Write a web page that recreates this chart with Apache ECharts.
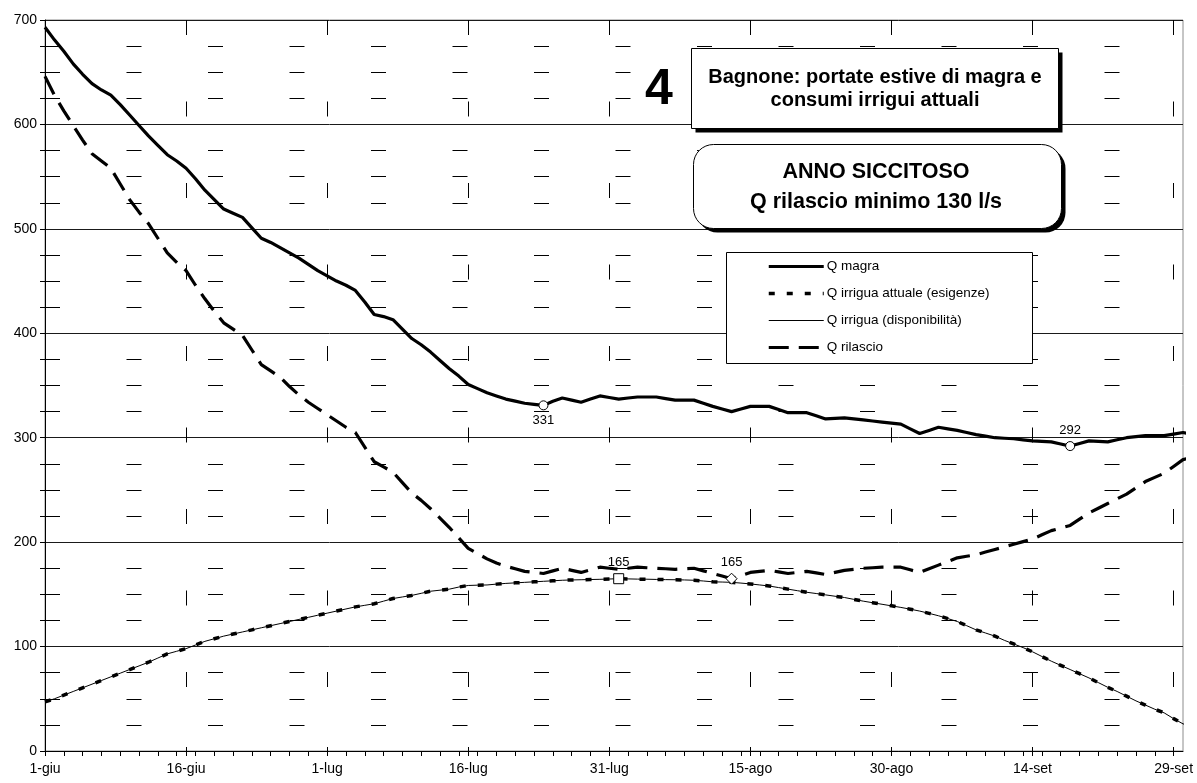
<!DOCTYPE html>
<html><head><meta charset="utf-8">
<script src="https://cdn.jsdelivr.net/npm/echarts@6/dist/echarts.min.js"></script>
<style>html,body{margin:0;padding:0;background:#fff}#c{width:1197px;height:783px}</style>
</head><body><div id="c"></div>
<script>
// ---- data ----
const months = [['giu', 30], ['lug', 31], ['ago', 31], ['set', 30], ['ott', 1]];
const categories = [];
months.forEach(function (m) { for (let d = 1; d <= m[1]; d++) categories.push(d + '-' + m[0]); });

const yMin = 0, yMax = 700, yInterval = 100;

const qMagra = [
  693, 681, 670, 658, 648, 639, 633, 628, 619, 609,
  599, 589, 580, 571, 565, 558, 548, 537, 528, 519,
  515, 511, 501, 491, 487, 482, 477, 472, 466, 460,
  455, 450, 446, 441, 430, 418, 416, 413, 404, 395,
  389, 382, 374, 366, 359, 351, 347, 343, 340, 337,
  335, 333, 332, 331, 335, 338, 336, 334, 337, 340,
  338.5, 337, 338, 339, 339, 339, 337.5, 336, 336, 336,
  333, 330, 327.5, 325, 327.5, 330, 330, 330, 327, 324,
  324, 324, 321, 318, 318.5, 319, 318, 317, 316, 315,
  314, 313, 308.5, 304, 307, 310, 308.5, 307, 305, 303,
  301.5, 300, 299.5, 299, 298, 297, 296.5, 296, 294, 292,
  294.5, 297, 296.5, 296, 298, 300, 301, 302, 302, 302,
  303.5, 305, 303
];

const qIrriguaEsigenze = [
  47, 50, 53.5, 57, 60.5, 64, 67.5, 71, 74.5, 78,
  81.5, 85, 89, 93, 95.5, 98, 101.5, 105, 107.5, 110,
  112, 114, 116, 118, 120, 122, 124, 126, 128, 130,
  132, 134, 136, 138, 139.5, 141, 143.5, 146, 147.5, 149,
  151, 153, 154, 155, 157, 158.5, 158.8, 159, 159.8, 160.5,
  161, 161.5, 162, 162.5, 163, 163.5, 163.8, 164, 164.2, 164.4,
  164.7, 165, 164.8, 164.6, 164.5, 164.3, 164.1, 164, 163.8, 163.5,
  162.8, 162, 161.8, 161.5, 160.8, 160, 159, 158, 156.5, 155,
  153.5, 152, 150.8, 149.5, 148.2, 147, 145.2, 143.5, 142, 140.5,
  139, 137.5, 135.8, 134, 131.8, 129.5, 126.8, 124, 120, 116,
  113, 110, 106, 102.5, 99, 95, 90.5, 86, 82, 78,
  74, 70, 65.5, 61, 57, 52.5, 48, 44, 40, 36.5,
  31, 26, 23
];

const qIrriguaDisponibilita = [
  47, 50, 53.5, 57, 60.5, 64, 67.5, 71, 74.5, 78,
  81.5, 85, 89, 93, 95.5, 98, 101.5, 105, 107.5, 110,
  112, 114, 116, 118, 120, 122, 124, 126, 128, 130,
  132, 134, 136, 138, 139.5, 141, 143.5, 146, 147.5, 149,
  151, 153, 154, 155, 157, 158.5, 158.8, 159, 159.8, 160.5,
  161, 161.5, 162, 162.5, 163, 163.5, 163.8, 164, 164.2, 164.4,
  164.7, 165, 164.8, 164.6, 164.5, 164.3, 164.1, 164, 163.8, 163.5,
  162.8, 162, 161.8, 161.5, 160.8, 160, 159, 158, 156.5, 155,
  153.5, 152, 150.8, 149.5, 148.2, 147, 145.2, 143.5, 142, 140.5,
  139, 137.5, 135.8, 134, 131.8, 129.5, 126.8, 124, 120, 116,
  113, 110, 106, 102.5, 99, 95, 90.5, 86, 82, 78,
  74, 70, 65.5, 61, 57, 52.5, 48, 44, 40, 36.5,
  31, 26, 23
];

const qRilascio = [
  646, 628, 613, 599, 585, 572, 565, 558, 543, 528,
  516, 505, 491, 477, 468, 460, 446, 433, 421, 410,
  404, 398, 384, 370, 364, 358, 349, 341, 334, 328,
  322, 316, 310, 305, 291, 277, 272, 267, 257, 247,
  240, 232, 223, 214, 204, 194, 189, 184, 180, 177,
  174.5, 172, 171, 170, 172.5, 175, 173, 171, 173.5, 176,
  175, 174, 175, 176, 175.5, 175, 174.5, 174, 174.5, 175,
  172.5, 170, 167.5, 165, 168, 171, 172, 173, 171.5, 170,
  171, 172, 170.5, 169, 171, 173, 174, 175, 175.5, 176,
  176, 176, 173.5, 171, 174.5, 178, 181.5, 185, 186.5, 188,
  190.5, 193, 195.5, 198, 200.5, 203, 207, 211, 213.5, 216,
  222, 228, 232.5, 237, 241.5, 246, 252, 258, 262, 266,
  272.5, 279, 281
];

// indices of the annotated points
const magraMarkIdx = [53, 109];
const esigenzeMarkIdx = [61];
const rilascioMarkIdx = [73];

const seriesNames = ['Q magra', 'Q irrigua attuale (esigenze)', 'Q irrigua (disponibilità)', 'Q rilascio'];

// ---- chart ----
const FONT = 'Liberation Sans, Arial, sans-serif';

function buildData(values, idxs, symbol, size, positions) {
  return values.map(function (v, i) {
    const k = idxs.indexOf(i);
    if (k < 0) return v;
    return {
      value: v,
      symbol: symbol,
      symbolSize: size,
      itemStyle: { color: '#fff', borderColor: '#000', borderWidth: 1 },
      label: {
        show: true, position: positions[k], distance: 4,
        color: '#000', fontSize: 13, fontFamily: FONT,
        formatter: function (p) { return Math.round(p.value); }
      }
    };
  });
}

const chart = echarts.init(document.getElementById('c'), null, { renderer: 'canvas' });

const dashGrid = { color: '#000', width: 1, type: [15, 66.5], dashOffset: 0 };

const lineStyles = [
  { color: '#000', width: 3.2, type: 'solid' },
  { color: '#000', width: 3.5, type: [6, 12] },
  { color: '#000', width: 1, type: 'solid' },
  { color: '#000', width: 3.2, type: [20, 10] }
];

const commonSeries = {
  type: 'line', xAxisIndex: 0, yAxisIndex: 0,
  symbol: 'none', showSymbol: true, showAllSymbol: true,
  smooth: false, clip: false, animation: false,
  emphasis: { disabled: true }, color: '#000'
};

chart.setOption({
  animation: false,
  backgroundColor: '#fff',
  textStyle: { fontFamily: FONT },
  grid: { left: 45, right: 14, top: 20, bottom: 32, show: true, borderColor: '#8c8c8c', borderWidth: 1, containLabel: false },
  legend: {
    orient: 'vertical', left: 767, top: 259.5, padding: 0,
    itemWidth: 55, itemHeight: 14, itemGap: 13, z: 20,
    data: seriesNames.map(function (n, k) {
      return { name: n, lineStyle: { width: lineStyles[k].width, type: lineStyles[k].type, color: '#000' } };
    }),
    itemStyle: { opacity: 0, borderWidth: 0 },
    textStyle: { fontSize: 13.5, color: '#000', fontFamily: FONT, padding: [0, 0, 0, -2] },
    selectedMode: false
  },
  xAxis: [{
    type: 'category', data: categories, boundaryGap: false, max: 121, position: 'bottom',
    axisLine: { show: true, lineStyle: { color: '#000', width: 1 } },
    axisTick: { show: true, length: 5, lineStyle: { color: '#000' },
      interval: function (i) { return i % 2 === 0 || i % 15 === 0; } },
    axisLabel: { interval: 14, fontSize: 14, color: '#000', margin: 11, fontFamily: FONT },
    splitLine: { show: true, interval: 14, lineStyle: dashGrid }
  }, {
    type: 'category', data: categories, boundaryGap: false, max: 121, position: 'bottom',
    axisLine: { show: false },
    axisTick: { show: true, inside: true, length: 4, interval: 14, lineStyle: { color: '#000' } },
    axisLabel: { show: false },
    splitLine: { show: false }
  }],
  yAxis: {
    type: 'value', min: yMin, max: yMax, interval: yInterval,
    axisLine: { show: true, lineStyle: { color: '#000', width: 1 } },
    axisTick: { show: true, length: 5, lineStyle: { color: '#000' } },
    minorTick: { show: true, splitNumber: 4, length: 5, lineStyle: { color: '#000' } },
    axisLabel: { fontSize: 14, color: '#000', margin: 8, fontFamily: FONT },
    splitLine: { show: true, lineStyle: { color: '#1a1a1a', width: 1 } },
    minorSplitLine: { show: true, lineStyle: dashGrid }
  },
  series: [
    Object.assign({}, commonSeries, {
      name: seriesNames[0], z: 5,
      data: buildData(qMagra, magraMarkIdx, 'circle', 9, ['bottom', 'top']),
      lineStyle: lineStyles[0]
    }),
    Object.assign({}, commonSeries, {
      name: seriesNames[1], z: 4,
      data: buildData(qIrriguaEsigenze, esigenzeMarkIdx, 'rect', 10, ['top']),
      lineStyle: lineStyles[1]
    }),
    Object.assign({}, commonSeries, {
      name: seriesNames[2], z: 3,
      data: qIrriguaDisponibilita,
      lineStyle: lineStyles[2]
    }),
    Object.assign({}, commonSeries, {
      name: seriesNames[3], z: 4,
      data: buildData(qRilascio, rilascioMarkIdx, 'diamond', 11, ['top']),
      lineStyle: lineStyles[3]
    })
  ],
  graphic: [
    // legend frame
    { type: 'rect', z: 8, shape: { x: 726.5, y: 252.5, width: 306, height: 111 },
      style: { fill: '#fff', stroke: '#000', lineWidth: 1 } },
    // title box 1
    { type: 'rect', z: 8, shape: { x: 695.5, y: 52.5, width: 367, height: 80 }, style: { fill: '#000' } },
    { type: 'rect', z: 9, shape: { x: 691.5, y: 48.5, width: 367, height: 80 },
      style: { fill: '#fff', stroke: '#000', lineWidth: 1 } },
    { type: 'text', z: 10, style: { text: 'Bagnone: portate estive di magra e', x: 875, y: 77,
      font: 'bold 20px ' + FONT, fill: '#000', textAlign: 'center', textVerticalAlign: 'middle' } },
    { type: 'text', z: 10, style: { text: 'consumi irrigui attuali', x: 875, y: 100,
      font: 'bold 20px ' + FONT, fill: '#000', textAlign: 'center', textVerticalAlign: 'middle' } },
    // title box 2
    { type: 'rect', z: 8, shape: { x: 697.5, y: 148.5, width: 368, height: 84, r: 20 }, style: { fill: '#000' } },
    { type: 'rect', z: 9, shape: { x: 693.5, y: 144.5, width: 368, height: 84, r: 20 },
      style: { fill: '#fff', stroke: '#000', lineWidth: 1 } },
    { type: 'text', z: 10, style: { text: 'ANNO SICCITOSO', x: 876, y: 172,
      font: 'bold 21.5px ' + FONT, fill: '#000', textAlign: 'center', textVerticalAlign: 'middle' } },
    { type: 'text', z: 10, style: { text: 'Q rilascio minimo 130 l/s', x: 876, y: 202,
      font: 'bold 21.5px ' + FONT, fill: '#000', textAlign: 'center', textVerticalAlign: 'middle' } },
    // big "4"
    { type: 'text', z: 10, style: { text: '4', x: 659, y: 90,
      font: 'bold 50px ' + FONT, fill: '#000', textAlign: 'center', textVerticalAlign: 'middle' } }
  ]
});
</script>
</body></html>
